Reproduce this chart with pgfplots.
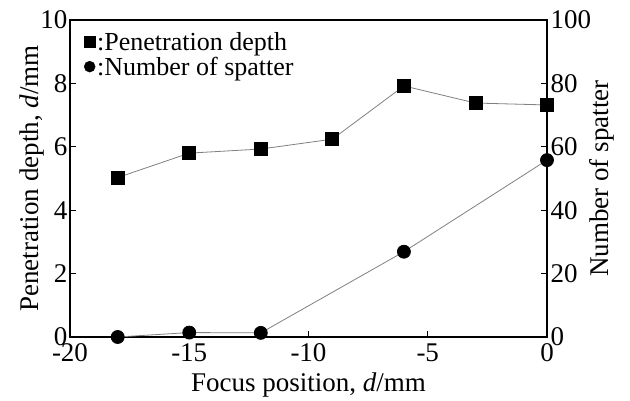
\documentclass[border=0pt]{standalone}
\usepackage{pgfplots}
\pgfplotsset{compat=1.18}
\usepackage{fontspec}
\setmainfont{Liberation Serif}
\begin{document}
\begin{tikzpicture}
\useasboundingbox (-70pt,-64pt) rectangle (560pt,337pt);
\pgfplotsset{every axis/.append style={
  scale only axis, width=477pt, height=317pt, xmin=-20, xmax=0,
  tick align=inside, major tick length=6pt,
  tick label style={font=\rmfamily\fontsize{27}{30}\selectfont},
  label style={font=\rmfamily\fontsize{27}{30}\selectfont},
  /pgf/number format/assume math mode=true,
  axis line style={line width=1.6pt},
  every tick/.style={line width=1.2pt, black},
}}
\begin{axis}[at={(0,0)}, anchor=south west, ymin=0, ymax=10, ytick={0,2,...,10},
  xtick={-20,-15,...,0}, xtick pos=bottom, ytick pos=left,
  xticklabel style={yshift=-3pt},
  yticklabel style={xshift=1pt},
  xlabel={Focus position, \textit{d}/mm},
  xlabel style={at={(axis description cs:0.5,-0.151)}, anchor=center},
  ylabel={Penetration depth, \textit{d}/mm},
  ylabel style={at={(axis description cs:-0.08,0.5)}, anchor=center},
  legend cell align=left,
  legend style={at={(0,1)}, anchor=north west, draw=none, fill=none,
    font=\rmfamily\fontsize{26}{28}\selectfont, xshift=14pt, yshift=-10pt,
    row sep=1pt, inner sep=0pt},
  legend image code/.code={\draw[#1, only marks, mark size=5.5pt] plot coordinates {(0.2cm,0cm)};},
]
\addplot[gray, line width=0.8pt, mark=square*, mark size=6.5pt, mark options={black, fill=black}]
  coordinates {(-18,5.03) (-15,5.8) (-12,5.93) (-9,6.24) (-6,7.92) (-3,7.38) (0,7.32)};
\addlegendentry{:Penetration depth}
\addlegendimage{black, mark=*, mark options={fill=black}}
\addlegendentry{:Number of spatter}
\end{axis}
\begin{axis}[at={(0,0)}, anchor=south west, ymin=0, ymax=100, ytick={0,20,...,100},
  hide x axis, axis y line*=right, ytick pos=right,
  ylabel={Number of spatter},
  ylabel style={at={(axis description cs:1.115,0.5)}, anchor=center}]
\addplot[gray, line width=0.8pt, mark=*, mark size=6.5pt, mark options={black, fill=black}]
  coordinates {(-18,0) (-15,1.4) (-12,1.3) (-6,26.9) (0,55.8)};
\end{axis}
\end{tikzpicture}
\end{document}
